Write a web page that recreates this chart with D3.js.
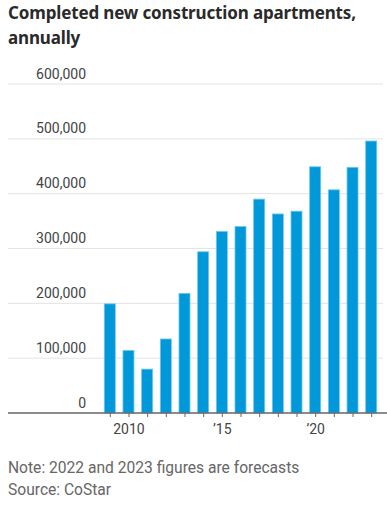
<!DOCTYPE html>
<html>
<head>
  <meta charset="utf-8">
  <title>Completed new construction apartments</title>
  <style>
    body { margin: 0; background: #fff; }
    svg { display: block; }
    .title { font-family: "Noto Sans", sans-serif; font-weight: bold; font-size: 17px; letter-spacing: -0.15px; fill: #2a2a2a; }
    .tick text { font-family: Roboto, sans-serif; font-size: 14px; fill: #444; }
    .note { font-family: Roboto, sans-serif; font-size: 15.6px; fill: #666; }
  </style>
  <script src="https://cdn.jsdelivr.net/npm/d3@7"></script>
</head>
<body>
<div id="chart"></div>
<script>

var years = [2009, 2010, 2011, 2012, 2013, 2014, 2015, 2016, 2017, 2018, 2019, 2020, 2021, 2022, 2023];
var completed = [199000, 114000, 80000, 135000, 218000, 294000, 331000, 340000, 390000, 363000, 368000, 449000, 407000, 448000, 496000];
var yTicks = [0, 100000, 200000, 300000, 400000, 500000, 600000];
var xTicks = [2010, 2015, 2020];
var xTickLabels = ["2010", "\u201915", "\u201920"];
var titleLines = ["Completed new construction apartments,", "annually"];
var notes = ["Note: 2022 and 2023 figures are forecasts", "Source: CoStar"];

var width = 387, height = 505;
var plotLeft = 8, plotRight = 383, plotBase = 413, plotTop = 84;

var svg = d3.select("#chart").append("svg")
  .attr("width", width)
  .attr("height", height);

svg.selectAll("text.title").data(titleLines).enter().append("text")
  .attr("class", "title")
  .attr("x", 8)
  .attr("y", function(d, i) { return 19 + i * 25; })
  .text(function(d) { return d; });

var y = d3.scaleLinear().domain([0, 600000]).range([plotBase, plotTop]);
var x = d3.scaleLinear().domain([2009, 2023]).range([109.8, 371.2]);
var barW = 11;

// gridlines
svg.append("g").selectAll("line").data(yTicks.filter(function(d) { return d > 0; })).enter().append("line")
  .attr("x1", plotLeft).attr("x2", plotRight)
  .attr("y1", function(d) { return y(d); })
  .attr("y2", function(d) { return y(d); })
  .attr("stroke", "#e3e3e3")
  .attr("stroke-width", 1);

var yAxis = svg.append("g")
  .attr("transform", "translate(86,0)")
  .call(d3.axisLeft(y).tickValues(yTicks).tickSize(0).tickPadding(0).tickFormat(d3.format(",")));
yAxis.select(".domain").remove();
yAxis.selectAll(".tick text").attr("dy", -6);

svg.append("g").selectAll("rect").data(completed).enter().append("rect")
  .attr("x", function(d, i) { return x(years[i]) - barW / 2; })
  .attr("y", function(d) { return y(d); })
  .attr("width", barW)
  .attr("height", function(d) { return plotBase - y(d); })
  .attr("fill", "#0098d9")
  .attr("stroke", "#6cc6f0")
  .attr("stroke-width", 0.8);

// x axis
svg.append("line")
  .attr("x1", plotLeft).attr("x2", width)
  .attr("y1", plotBase).attr("y2", plotBase)
  .attr("stroke", "#666").attr("stroke-width", 1.5);

var xAxis = svg.append("g")
  .attr("transform", "translate(0," + plotBase + ")")
  .call(d3.axisBottom(x).tickValues(years).tickSize(4).tickPadding(7)
    .tickFormat(function(d) {
      var k = xTicks.indexOf(d);
      return k < 0 ? "" : xTickLabels[k];
    }));
xAxis.select(".domain").remove();
xAxis.selectAll(".tick line").attr("stroke", "#666");

svg.selectAll("text.note").data(notes).enter().append("text")
  .attr("class", "note")
  .attr("x", 8)
  .attr("y", function(d, i) { return 473 + i * 22; })
  .text(function(d) { return d; });

</script>
</body>
</html>
